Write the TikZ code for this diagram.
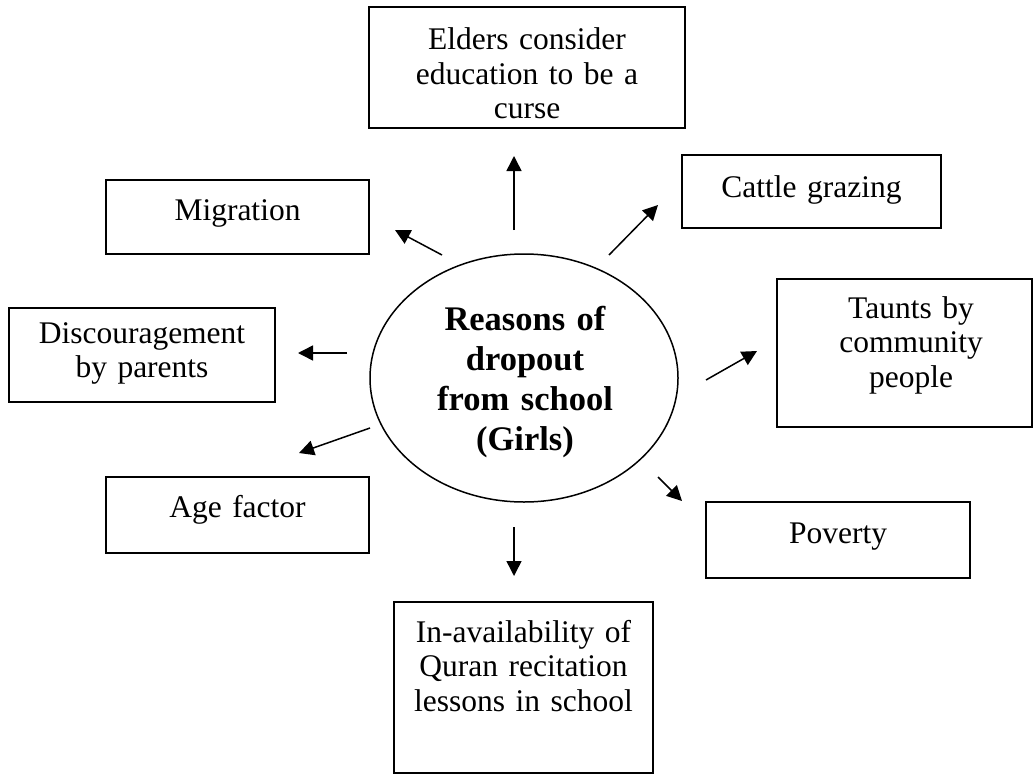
\documentclass[tikz,border=0pt]{standalone}
\usepackage{fontspec}
\setmainfont{Liberation Serif}
\usetikzlibrary{arrows.meta,shapes.geometric}
\begin{document}
\begin{tikzpicture}[x=1pt,y=-1pt,
  boxshape/.style={draw,line width=1.6pt,rectangle,inner sep=0pt},
  lbl/.style={font=\fontsize{31.5}{34.5}\selectfont,align=center,text width=320pt,inner sep=0pt,anchor=base},
  hub/.style={draw,line width=1.5pt,ellipse,inner sep=0pt,minimum width=308pt,minimum height=248pt},
  hubtxt/.style={font=\fontsize{34.5}{40}\selectfont\bfseries,align=center,text width=300pt,inner sep=0pt,anchor=base},
  arr/.style={line width=1.5pt,-{Triangle[length=15pt,width=15pt]}}]
\useasboundingbox (0,0) rectangle (1035,776);

% boxes
\node[boxshape,minimum width=316pt,minimum height=121pt] (elders) at (527,67.5) {};
\node[boxshape,minimum width=263pt,minimum height=74pt] (mig) at (237.5,217) {};
\node[boxshape,minimum width=259pt,minimum height=73pt] (cattle) at (811.5,191.5) {};
\node[boxshape,minimum width=266pt,minimum height=94pt] (disc) at (142,355) {};
\node[boxshape,minimum width=255pt,minimum height=148pt] (taunts) at (904.5,353) {};
\node[boxshape,minimum width=263pt,minimum height=76pt] (age) at (237.5,515) {};
\node[boxshape,minimum width=264pt,minimum height=76pt] (pov) at (838,540) {};
\node[boxshape,minimum width=259pt,minimum height=171pt] (ina) at (523.5,687.5) {};

% labels
\node[lbl] (eldersT) at (527,50) {Elders consider\\education to be a\\curse};
\node[lbl] (migT) at (237.5,220) {Migration};
\node[lbl] (cattleT) at (811.5,197) {Cattle grazing};
\node[lbl] (discT) at (142,343) {Discouragement\\by parents};
\node[lbl] (tauntsT) at (911,318) {Taunts by\\community\\people};
\node[lbl] (ageT) at (237.5,517) {Age factor};
\node[lbl] (povT) at (838,543) {Poverty};
\node[lbl] (inaT) at (523.5,642) {In-availability of\\Quran recitation\\lessons in school};

% hub
\node[hub] (hub) at (524,378) {};
\node[hubtxt] (hubT) at (525,330) {Reasons of\\dropout\\from school\\(Girls)};

% arrow end points
\coordinate (s1) at (514,230); \coordinate (e1) at (514,156);
\coordinate (s2) at (442,255); \coordinate (e2) at (395,230);
\coordinate (s3) at (609,255); \coordinate (e3) at (658,205);
\coordinate (s4) at (347,353); \coordinate (e4) at (298,353);
\coordinate (s5) at (370,428); \coordinate (e5) at (299,453);
\coordinate (s6) at (658,477); \coordinate (e6) at (682,501);
\coordinate (s7) at (706,380); \coordinate (e7) at (757,351);
\coordinate (s8) at (514,527); \coordinate (e8) at (514,576);

\draw[arr] (s1) -- (e1);
\draw[arr] (s2) -- (e2);
\draw[arr] (s3) -- (e3);
\draw[arr] (s4) -- (e4);
\draw[arr] (s5) -- (e5);
\draw[arr] (s6) -- (e6);
\draw[arr] (s7) -- (e7);
\draw[arr] (s8) -- (e8);
\end{tikzpicture}
\end{document}
